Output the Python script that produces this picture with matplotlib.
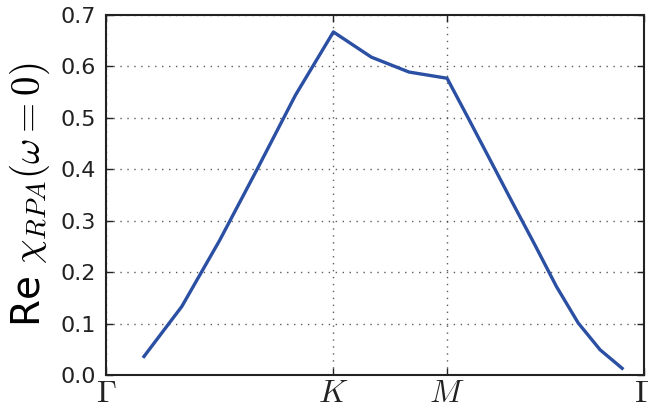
import matplotlib
matplotlib.use("Agg")
import matplotlib.pyplot as plt
import numpy as np

plt.rcParams['mathtext.fontset'] = 'cm'
plt.rcParams['font.family'] = 'DejaVu Sans'

# путь Γ-K-M-Γ (гексагональная решётка, длина Γ-K = 1)
k_point = 1.0
m_point = 1.5
g_end = 1.5 + np.sqrt(3) / 2

path_x = [0.167, 0.333, 0.5, 0.667, 0.833, 1.0, 1.167, 1.333, 1.5,
          1.596, 1.692, 1.789, 1.885, 1.981, 2.077, 2.173, 2.270]
chi_re = [0.036, 0.133, 0.262, 0.402, 0.544, 0.667, 0.618, 0.589, 0.577,
          0.497, 0.416, 0.334, 0.254, 0.172, 0.101, 0.049, 0.013]

tick_pos = [0.0, k_point, m_point, g_end]
tick_labels = [r'$\Gamma$', r'$K$', r'$M$', r'$\Gamma$']

fig = plt.figure(figsize=(6.48, 4.15), dpi=100)
ax = fig.add_axes([0.1636, 0.0964, 0.8302, 0.8675])

ax.plot(path_x, chi_re, color='#2a4fa3', linewidth=2.4)

ax.set_xlim(0, g_end)
ax.set_ylim(0, 0.7)
ax.set_xticks(tick_pos)
ax.set_xticklabels(tick_labels, fontsize=23)
ax.set_yticks(np.arange(0, 0.71, 0.1))
ax.set_yticklabels([f'{v:.1f}' for v in np.arange(0, 0.71, 0.1)], fontsize=16)
ax.tick_params(direction='in', top=True, right=True, length=5, width=1, colors='#222222')
ax.tick_params(axis='x', pad=2)
ax.tick_params(axis='y', pad=7)

ax.grid(color='#333333', linestyle=(0, (1, 4)), linewidth=1, alpha=0.8)
for spine in ax.spines.values():
    spine.set_color('#222222')
    spine.set_linewidth(1.5)

ax.set_ylabel(r'Re $\chi_{RPA}(\omega=0)$', fontsize=28, labelpad=6)

fig.savefig('out.png', dpi=100)
